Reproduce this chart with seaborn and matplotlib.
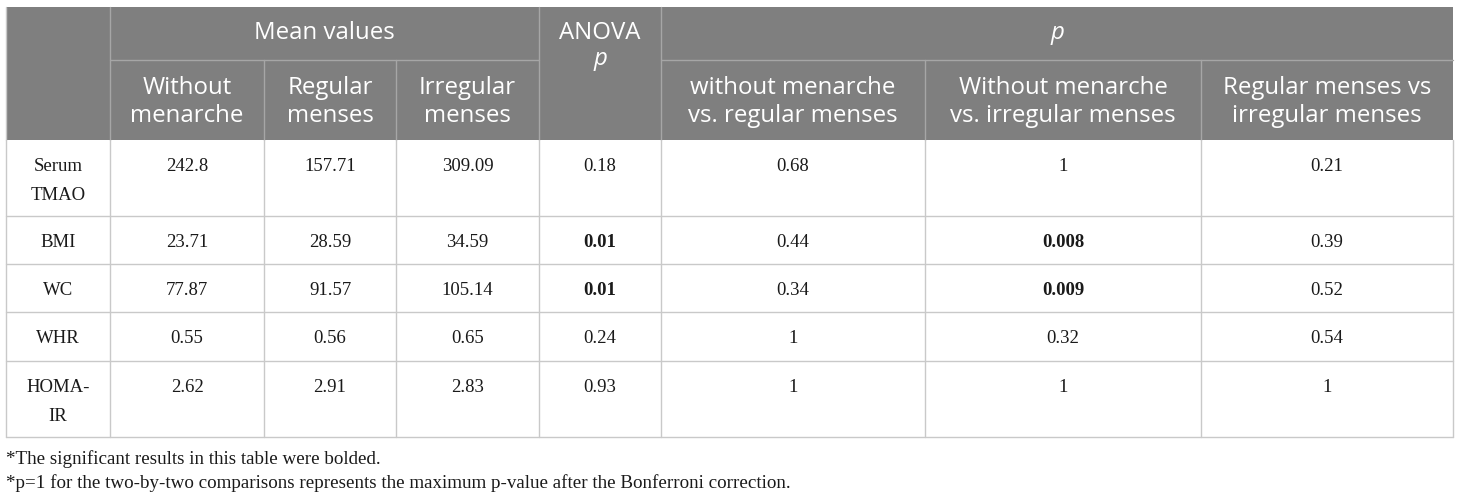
import numpy as np
import pandas as pd
import seaborn as sns
import matplotlib.pyplot as plt
from matplotlib.patches import Rectangle

sns.set_theme(style="white")

# table content
row_labels = ["Serum\nTMAO", "BMI", "WC", "WHR", "HOMA-\nIR"]
group_headers = ["Mean values", "ANOVA\np", "p"]
sub_headers = ["Without\nmenarche", "Regular\nmenses", "Irregular\nmenses",
               "without menarche\nvs. regular menses", "Without menarche\nvs. irregular menses",
               "Regular menses vs\nirregular menses"]
without_menarche = ["242.8", "23.71", "77.87", "0.55", "2.62"]
regular_menses = ["157.71", "28.59", "91.57", "0.56", "2.91"]
irregular_menses = ["309.09", "34.59", "105.14", "0.65", "2.83"]
anova_p = ["0.18", "0.01", "0.01", "0.24", "0.93"]
p_wm_reg = ["0.68", "0.44", "0.34", "1", "1"]
p_wm_irr = ["1", "0.008", "0.009", "0.32", "1"]
p_reg_irr = ["0.21", "0.39", "0.52", "0.54", "1"]
significant = [(1, 4), (2, 4), (1, 6), (2, 6)]  # (row, col) in bold
footnotes = ["*The significant results in this table were bolded.",
             "*p=1 for the two-by-two comparisons represents the maximum p-value after the Bonferroni correction."]

df = pd.DataFrame({"label": row_labels, "wm": without_menarche, "reg": regular_menses,
                   "irr": irregular_menses, "anova": anova_p, "p1": p_wm_reg,
                   "p2": p_wm_irr, "p3": p_reg_irr})

# layout in pixels
col_x = [6, 110, 264, 396, 539, 661, 925, 1201, 1453]
head_y = [7, 60, 140]
row_y = [140, 216, 264, 312, 361, 437]

fig = plt.figure(figsize=(14.6, 4.99), dpi=100)
ax = fig.add_axes([0, 0, 1, 1])
ax.set_xlim(0, 1460)
ax.set_ylim(499, 0)
ax.axis("off")

head_bg = "#7f7f7f"
head_line = "#a6a6a6"
grid = "#c9c9c9"
hfont = dict(family=["Open Sans", "DejaVu Sans"], color="white", fontsize=17.3)
bfont = dict(family=["Liberation Serif", "DejaVu Serif"], color="#1a1a1a", fontsize=13.5)

ax.add_patch(Rectangle((col_x[0], head_y[0]), col_x[-1] - col_x[0], head_y[2] - head_y[0],
                       facecolor=head_bg, edgecolor="none"))

# header lines
for x in col_x[1:-1]:
    if x in (col_x[2], col_x[3], col_x[6], col_x[7]):
        ax.plot([x, x], [head_y[1], head_y[2]], color=head_line, lw=1)
    else:
        ax.plot([x, x], [head_y[0], head_y[2]], color=head_line, lw=1)
ax.plot([col_x[1], col_x[4]], [head_y[1], head_y[1]], color=head_line, lw=1)
ax.plot([col_x[5], col_x[8]], [head_y[1], head_y[1]], color=head_line, lw=1)

# header texts
ax.text((col_x[1] + col_x[4]) / 2, 33, group_headers[0], ha="center", va="center", **hfont)
ax.text((col_x[4] + col_x[5]) / 2, 33, group_headers[1].split("\n")[0], ha="center", va="center", **hfont)
ax.text((col_x[4] + col_x[5]) / 2, 59, group_headers[1].split("\n")[1], ha="center", va="center",
        style="italic", **hfont)
ax.text((col_x[5] + col_x[8]) / 2, 33, group_headers[2], ha="center", va="center", style="italic", **hfont)
sub_cols = [1, 2, 3, 5, 6, 7]
for c, txt in zip(sub_cols, sub_headers):
    ax.text((col_x[c] + col_x[c + 1]) / 2, 102, txt, ha="center", va="center",
            linespacing=1.2, **hfont)

# body grid
for y in row_y[1:]:
    ax.plot([col_x[0], col_x[-1]], [y, y], color=grid, lw=1)
for x in col_x:
    ax.plot([x, x], [row_y[0], row_y[-1]], color=grid, lw=1)
ax.plot([col_x[0], col_x[0]], [head_y[0], head_y[2]], color=grid, lw=1)

# body text, one line at a time so the first line sits at the top of the cell
for r, row in enumerate(df.itertuples(index=False)):
    for c, val in enumerate(row):
        xc = (col_x[c] + col_x[c + 1]) / 2
        weight = "bold" if (r, c) in significant else "normal"
        for i, line in enumerate(val.split("\n")):
            ax.text(xc, row_y[r] + 31 + i * 29, line, ha="center", va="baseline",
                    fontweight=weight, **bfont)

# footnotes
ax.text(6, 459, footnotes[0], ha="left", va="center", **dict(bfont, fontsize=13.7))
ax.text(6, 483, footnotes[1], ha="left", va="center", **dict(bfont, fontsize=13.7))

fig.savefig("out.png", dpi=100, facecolor="white")
